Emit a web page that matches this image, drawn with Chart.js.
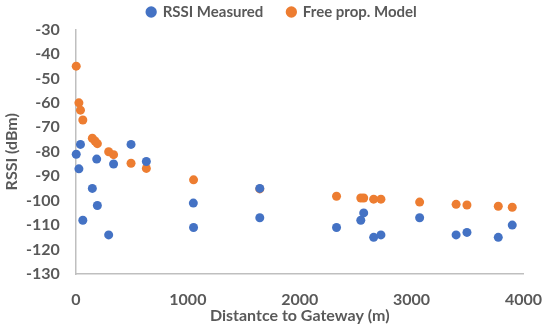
<!DOCTYPE html>
<html lang="en">
<head>
    <meta charset="UTF-8">
    <title>RSSI vs distance</title>
    <script src="https://cdn.jsdelivr.net/npm/chart.js"></script>
    <style>
        html, body { margin:0; padding:0; background:#fff; }
        #wrap { width:550px; height:327px; }
    </style>
</head>
<body>
    <div id="wrap"><canvas id="myChart"></canvas></div>

    <script>
        // distance (m) / RSSI (dBm)
        const measuredDist = [2, 26, 40, 61, 146, 185, 191, 292, 336, 492, 629, 1049, 1051, 1643, 1643, 2329, 2546, 2572, 2661, 2726, 3072, 3398, 3495, 3775, 3900];
        const measuredRssi = [-81, -87, -77, -108, -95, -83, -102, -114, -85, -77, -84, -101, -111, -95, -107, -111, -108, -105, -115, -114, -107, -114, -113, -115, -110];

        const modelDist = [2, 26, 40, 61, 146, 170, 191, 292, 336, 492, 629, 1051, 1643, 2329, 2546, 2572, 2661, 2726, 3072, 3398, 3495, 3775, 3900];
        const modelRssi = [-45, -60, -63, -67, -74.5, -75.6, -76.7, -80, -81.2, -84.7, -86.8, -91.5, -95.2, -98.2, -98.9, -98.9, -99.4, -99.4, -100.6, -101.5, -101.8, -102.3, -102.7];

        const xTicks = [0, 1000, 2000, 3000, 4000];
        const yTicks = [-30, -40, -50, -60, -70, -80, -90, -100, -110, -120, -130];

        const toPoints = (xs, ys) => xs.map((x, i) => ({ x: x, y: ys[i] }));

        const fontName = 'Lato, "Open Sans", sans-serif';
        const textColor = '#595959';
        const axisColor = '#BFBFBF';

        var data = {
            datasets: [{
                label: 'RSSI Measured',
                data: toPoints(measuredDist, measuredRssi),
                backgroundColor: '#4472C4',
                borderColor: '#4472C4',
                pointRadius: 4.5,
                pointHoverRadius: 4.5,
                borderWidth: 0,
                clip: false
            }, {
                label: 'Free prop. Model',
                data: toPoints(modelDist, modelRssi),
                backgroundColor: '#ED7D31',
                borderColor: '#ED7D31',
                pointRadius: 4.5,
                pointHoverRadius: 4.5,
                borderWidth: 0,
                clip: false
            }]
        };

        // legend padding is wide (gap between the 2 entries), top padding pulls it back up
        var options = {
            responsive: true,
            maintainAspectRatio: false,
            animation: false,
            layout: { padding: { left: 37, right: 23, top: -19.5, bottom: 0 } },
            plugins: {
                tooltip: { enabled: false },
                legend: {
                    position: 'top',
                    labels: {
                        usePointStyle: true,
                        pointStyle: 'circle',
                        boxWidth: 8,
                        boxHeight: 8,
                        padding: 24,
                        color: textColor,
                        font: { family: fontName, size: 15, weight: 'bold' }
                    }
                }
            },
            scales: {
                x: {
                    type: 'linear',
                    min: 0,
                    max: 4000,
                    afterBuildTicks: (axis) => { axis.ticks = xTicks.map(v => ({ value: v })); },
                    afterFit: (axis) => { axis.height = 53; },
                    grid: { display: false },
                    border: { display: true, color: axisColor, width: 1.5 },
                    ticks: {
                        padding: 8,
                        color: textColor,
                        callback: (v) => String(v),
                        font: { family: fontName, size: 16, weight: 'bold' }
                    },
                    title: {
                        display: true,
                        text: 'Distantce to Gateway (m)',
                        color: textColor,
                        padding: { top: 0, bottom: 2 },
                        font: { family: fontName, size: 16, weight: 'bold' }
                    }
                },
                y: {
                    type: 'linear',
                    min: -130,
                    max: -30,
                    afterBuildTicks: (axis) => { axis.ticks = yTicks.map(v => ({ value: v })); },
                    afterFit: (axis) => { axis.width = 39; },
                    grid: { display: false },
                    border: { display: true, color: axisColor, width: 1.5 },
                    ticks: {
                        // mirrored + negative padding so labels sit left of the axis without clipping
                        mirror: true,
                        crossAlign: 'far',
                        padding: -50,
                        color: textColor,
                        font: { family: fontName, size: 16, weight: 'bold' }
                    },
                    title: {
                        display: true,
                        text: 'RSSI (dBm)',
                        color: textColor,
                        padding: { top: -35, bottom: 0 },
                        font: { family: fontName, size: 16, weight: 'bold' }
                    }
                }
            }
        };

        var ctx = document.querySelector('#myChart').getContext('2d');
        var myChart = new Chart(ctx, {
            type: 'scatter',
            data: data,
            options: options
        });
    </script>
</body>
</html>
